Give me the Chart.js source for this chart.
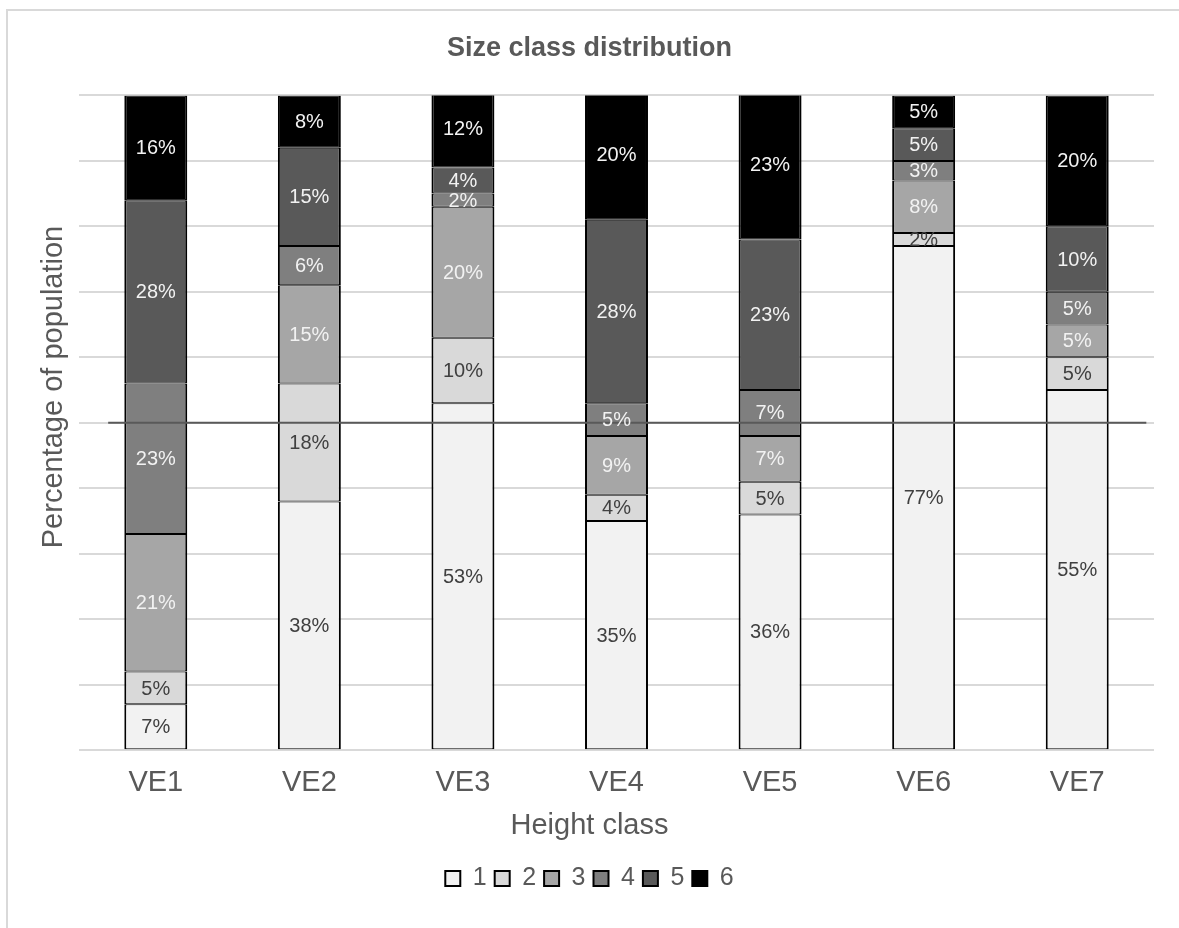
<!DOCTYPE html>
<html>
<head>
<meta charset="utf-8">
<title>Size class distribution</title>
<script src="https://cdn.jsdelivr.net/npm/chart.js@4.4.1/dist/chart.umd.min.js"></script>
<style>
  html, body { margin: 0; padding: 0; background: #fff; overflow: hidden; }
  #frame { position: absolute; left: 6px; top: 9px; width: 1400px; height: 1200px; border: 2px solid #d9d9d9; }
  #wrap { position: absolute; left: 0; top: 0; width: 1179px; height: 928px; }
</style>
</head>
<body>
<div id="frame"></div>
<div id="wrap"><canvas id="chart"></canvas></div>
<script>
// sites along the x axis
const categories = ['VE1', 'VE2', 'VE3', 'VE4', 'VE5', 'VE6', 'VE7'];
const classNames = ['1', '2', '3', '4', '5', '6'];

// share of the population (%) in each size class, per site
const class1 = [7, 38, 53, 35, 36, 77, 55];
const class2 = [5, 18, 10, 4, 5, 2, 5];
const class3 = [21, 15, 20, 9, 7, 8, 5];
const class4 = [23, 6, 2, 5, 7, 3, 5];
const class5 = [28, 15, 4, 28, 23, 5, 10];
const class6 = [16, 8, 12, 20, 23, 5, 20];

// 50% reference line, x given in category units on the hidden x2 axis
const refLineY = 50;
const refLineX = [0.19, 6.95];

const fills = ['#f2f2f2', '#d9d9d9', '#a6a6a6', '#7f7f7f', '#595959', '#000000'];
const labelInk = ['#404040', '#404040', '#f2f2f2', '#f2f2f2', '#f2f2f2', '#f2f2f2'];
const FONT = '"Liberation Sans", Arial, sans-serif';
const GREY = '#595959';

const series = [class1, class2, class3, class4, class5, class6];

const barSets = series.map((values, i) => ({
  label: classNames[i],
  data: values,
  backgroundColor: fills[i],
  borderColor: '#000000',
  borderWidth: { top: 1, bottom: 1, left: 2, right: 2 },
  borderSkipped: false,
  grouped: false,
  barPercentage: 0.41,
  categoryPercentage: 1
}));

// horizontal 50% line drawn over the bars
const halfLine = {
  id: 'halfLine',
  afterDatasetsDraw(chart) {
    const { ctx, scales } = chart;
    const y = scales.y.getPixelForValue(refLineY);
    ctx.save();
    ctx.strokeStyle = GREY;
    ctx.lineWidth = 2;
    ctx.beginPath();
    ctx.moveTo(scales.x2.getPixelForValue(refLineX[0]), y);
    ctx.lineTo(scales.x2.getPixelForValue(refLineX[1]), y);
    ctx.stroke();
    ctx.restore();
  }
};

// percentage text centred in every bar segment
const segmentLabels = {
  id: 'segmentLabels',
  afterDatasetsDraw(chart) {
    const ctx = chart.ctx;
    ctx.save();
    ctx.font = '20px ' + FONT;
    ctx.textAlign = 'center';
    ctx.textBaseline = 'middle';
    series.forEach((values, i) => {
      const meta = chart.getDatasetMeta(i);
      meta.data.forEach((bar, j) => {
        const { x, y, base } = bar.getProps(['x', 'y', 'base'], true);
        ctx.fillStyle = labelInk[i];
        ctx.fillText(values[j] + '%', x, (y + base) / 2 + 1);
      });
    });
    ctx.restore();
  }
};

// vertical axis caption
const yCaption = {
  id: 'yCaption',
  afterDraw(chart) {
    const ctx = chart.ctx;
    ctx.save();
    ctx.translate(54, 387);
    ctx.rotate(-Math.PI / 2);
    ctx.font = '29px ' + FONT;
    ctx.fillStyle = GREY;
    ctx.textAlign = 'center';
    ctx.textBaseline = 'middle';
    ctx.fillText('Percentage of population', 0, 0);
    ctx.restore();
  }
};

new Chart(document.getElementById('chart'), {
  type: 'bar',
  data: {
    labels: categories,
    datasets: barSets
  },
  options: {
    responsive: true,
    maintainAspectRatio: false,
    animation: false,
    layout: { padding: { left: 25, right: 25, top: 0, bottom: 27 } },
    plugins: {
      tooltip: { enabled: false },
      title: {
        display: true,
        text: 'Size class distribution',
        color: GREY,
        font: { family: FONT, size: 27, weight: 'bold' },
        padding: { top: 32, bottom: 31 }
      },
      subtitle: {
        display: true,
        text: 'Height class',
        position: 'bottom',
        weight: 500,
        color: GREY,
        font: { family: FONT, size: 29, weight: 'normal' },
        padding: { top: 8, bottom: 15 }
      },
      legend: {
        position: 'bottom',
        labels: {
          generateLabels: (chart) =>
            Chart.defaults.plugins.legend.labels.generateLabels(chart)
              .map((item) => ({ ...item, lineWidth: 2, strokeStyle: '#000000' })),
          boxWidth: 15,
          boxHeight: 15,
          padding: 8,
          color: GREY,
          font: { family: FONT, size: 25 }
        }
      }
    },
    scales: {
      x: {
        stacked: true,
        grid: { display: false, drawTicks: false },
        border: { display: false },
        ticks: { color: GREY, padding: 15, font: { family: FONT, size: 29 } },
        afterFit: (axis) => { axis.height = 50; }
      },
      x2: {
        type: 'linear',
        display: false,
        offset: false,
        min: 0,
        max: categories.length
      },
      y: {
        stacked: true,
        min: 0,
        max: 100,
        ticks: { display: false, stepSize: 10 },
        grid: { color: '#d9d9d9', lineWidth: 2, drawTicks: false },
        border: { display: false },
        afterFit: (axis) => { axis.width = 54; }
      }
    }
  },
  plugins: [halfLine, segmentLabels, yCaption]
});
</script>
</body>
</html>
